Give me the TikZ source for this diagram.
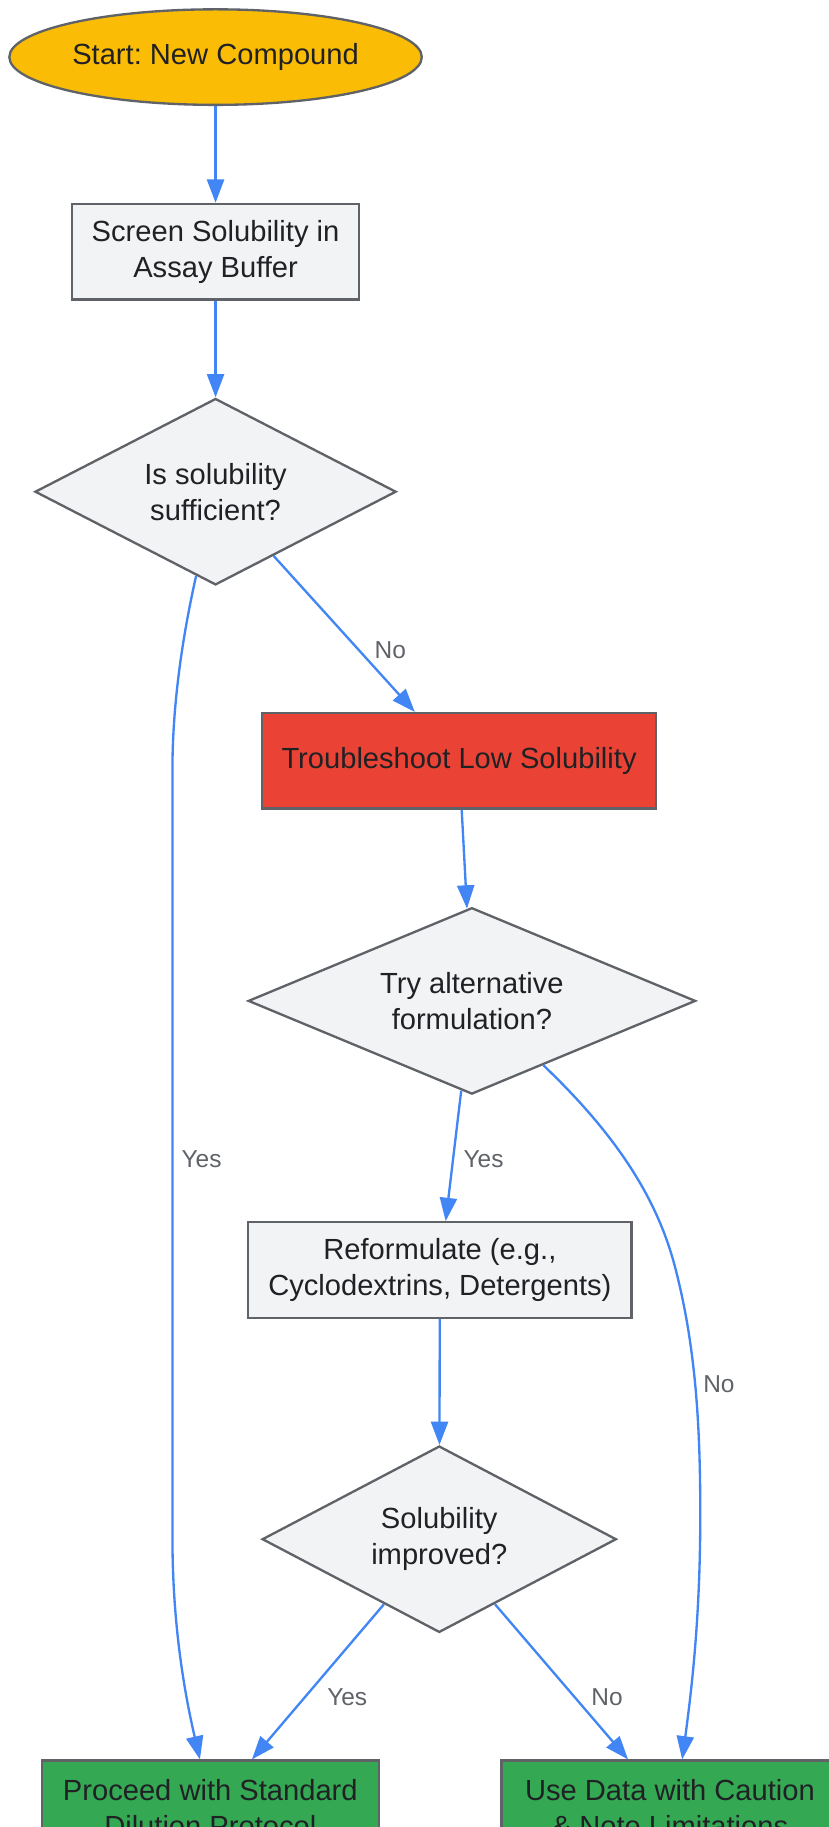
\documentclass[tikz,border=0pt]{standalone}
\usepackage{fontspec}
\setmainfont{Liberation Sans}
\usetikzlibrary{shapes.geometric,arrows.meta}
\frenchspacing

\definecolor{startfill}{RGB}{251,188,5}
\definecolor{stepfill}{RGB}{241,243,244}
\definecolor{badfill}{RGB}{234,67,53}
\definecolor{goodfill}{RGB}{52,168,83}
\definecolor{edgeblue}{RGB}{66,133,244}
\definecolor{rimgray}{RGB}{95,99,104}
\definecolor{inkdark}{RGB}{32,33,36}
\definecolor{labelgray}{RGB}{95,99,104}

\tikzset{every picture/.style={line width=0.75pt}}
\tikzset{
  boxfont/.style={font=\fontsize{18.75}{23.25}\selectfont, text=inkdark, align=center},
  startoval/.style={ellipse, draw=rimgray, fill=startfill, line width=1.5pt, inner sep=0pt, minimum width=265.5pt, minimum height=61.5pt, boxfont},
  stepbox/.style={rectangle, draw=rimgray, fill=stepfill, line width=1.5pt, inner sep=0pt, minimum height=61.5pt, boxfont},
  askdiamond/.style={diamond, draw=rimgray, fill=stepfill, line width=1.5pt, inner sep=0pt, minimum height=120pt, boxfont},
  flow/.style={draw=edgeblue, line width=1.5pt, -{Triangle[length=15pt,width=11pt]}},
  edgelabel/.style={font=\fontsize{15.75}{18}\selectfont, text=labelgray, inner sep=0.75pt}
}

\begin{document}
\begin{tikzpicture}[x=0.75pt,y=0.75pt,yscale=-1,xscale=1]
		%set diagram left start at 0, and has height of 1568
		\useasboundingbox (0,0) rectangle (711,1568);

		%Shape: Ellipse [id:start]
		\node [startoval] (start) at (185,49) {Start: New Compound};
		%Shape: Rectangle [id:screen]
		\node [stepbox, minimum width=184.5pt] (screen) at (185,216) {Screen Solubility in\\Assay Buffer};
		%Shape: Diamond [id:enough]
		\node [askdiamond, aspect=1.94, minimum width=232.5pt] (enough) at (185,422) {Is solubility\\sufficient?};
		%Shape: Rectangle [id:trouble]
		\node [stepbox, fill=badfill, minimum width=253.5pt] (trouble) at (394,653) {Troubleshoot Low Solubility};
		%Shape: Diamond [id:tryalt]
		\node [askdiamond, aspect=2.4, minimum width=288pt] (tryalt) at (405,859) {Try alternative\\formulation?};
		%Shape: Rectangle [id:reform]
		\node [stepbox, minimum width=246.75pt] (reform) at (377.5,1090) {Reformulate (e.g.,\\Cyclodextrins, Detergents)};
		%Shape: Diamond [id:improved]
		\node [askdiamond, aspect=1.9, minimum width=228pt] (improved) at (377,1321) {Solubility\\improved?};
		%Shape: Rectangle [id:proceed]
		\node [stepbox, fill=goodfill, minimum width=216.75pt] (proceed) at (180.5,1552) {Proceed with Standard\\Dilution Protocol};
		%Shape: Rectangle [id:caution]
		\node [stepbox, fill=goodfill, minimum width=216.75pt] (caution) at (575,1552) {Use Data with Caution\\\& Note Limitations};

		%Straight Lines
		\draw [flow] (start) -- (screen);
		\draw [flow] (screen) -- (enough);
		\draw [flow] (enough) -- (trouble);
		\draw [flow] (trouble) -- (tryalt);
		\draw [flow] (tryalt) -- (reform);
		\draw [flow] (reform) -- (improved);
		\draw [flow] (improved) -- (proceed);
		\draw [flow] (improved) -- (caution);
		%Curve Lines
		\draw [flow] (enough.257) .. controls (158,540) and (148,600) .. (148,660) -- (148,1320) .. controls (148,1400) and (160,1460) .. (proceed.102);
		\draw [flow] (tryalt.318.5) .. controls (530,975) and (565,1030) .. (580,1090) .. controls (598,1160) and (601,1230) .. (601,1300) .. controls (601,1380) and (595,1440) .. (caution.76);

		% Text Node
		\node [edgelabel] (noA) at (335,558) {No};
		% Text Node
		\node [edgelabel] (yesA) at (173,995) {Yes};
		% Text Node
		\node [edgelabel] (yesB) at (415,995) {Yes};
		% Text Node
		\node [edgelabel] (noB) at (617,1188) {No};
		% Text Node
		\node [edgelabel] (yesC) at (298,1457) {Yes};
		% Text Node
		\node [edgelabel] (noC) at (521,1457) {No};

	\end{tikzpicture}
\end{document}
